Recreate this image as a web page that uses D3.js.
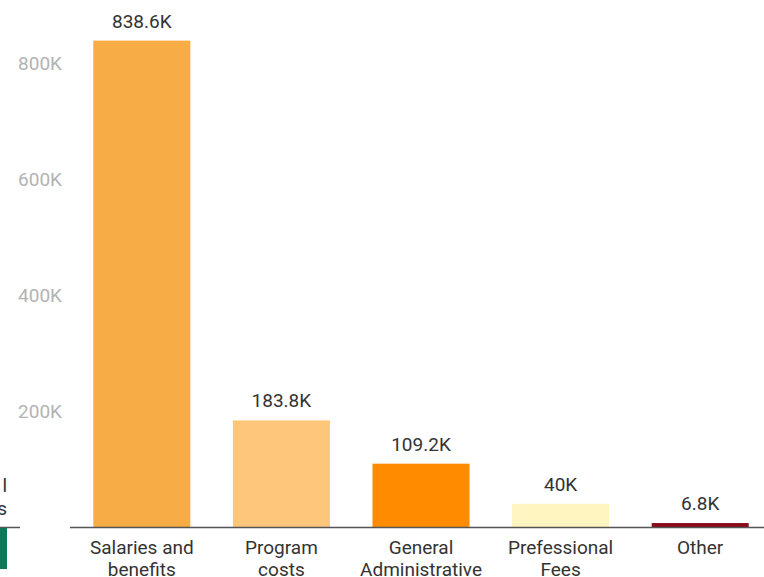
<!DOCTYPE html>
<html><head><meta charset="utf-8">
<script src="https://cdn.jsdelivr.net/npm/d3@7"></script>
<style>html,body{margin:0;padding:0;background:#fff;overflow:hidden}</style>
</head><body>
<svg id="c" width="764" height="577"></svg>
<script>
const categories = [["Salaries and","benefits"],["Program","costs"],["General","Administrative"],["Prefessional","Fees"],["Other"]];
const values = [838600, 183800, 109200, 40000, 6800];
const valueLabels = ["838.6K","183.8K","109.2K","40K","6.8K"];
const colors = ["#F7AC45","#FEC67A","#FF8C00","#FFF5C0","#8B0A1A"];
const yTicks = [200000, 400000, 600000, 800000];
const yTickLabels = ["200K","400K","600K","800K"];
// partial neighbouring chart at left edge
const neighborLabels = ["l","s"];
const neighborValues = [-70000];

const svg = d3.select("#c");
const font = "Roboto, 'Noto Sans', sans-serif";
const x = d3.scaleBand().domain(d3.range(values.length)).range([72, 770]).paddingInner(0.305).paddingOuter(0.1525);
const y = d3.scaleLinear().domain([0, 800000]).range([527, 63]);

// y tick labels
svg.append("g").selectAll("text").data(yTicks).join("text")
  .attr("x", 62).attr("y", d => y(d)).attr("dy", "0.35em")
  .attr("text-anchor", "end").attr("font-family", font).attr("font-size", 19)
  .attr("fill", "#b3b3b3").text((d,i) => yTickLabels[i]);

// bars
svg.append("g").selectAll("rect").data(values).join("rect")
  .attr("x", (d,i) => x(i)).attr("width", x.bandwidth())
  .attr("y", d => y(d)).attr("height", d => y(0) - y(d))
  .attr("fill", (d,i) => colors[i]);

// baseline
svg.append("line").attr("x1", 70).attr("x2", 764).attr("y1", y(0)+0.5).attr("y2", y(0)+0.5)
  .attr("stroke", "#555").attr("stroke-width", 1.5);

// value labels
svg.append("g").selectAll("text").data(values).join("text")
  .attr("x", (d,i) => x(i) + x.bandwidth()/2).attr("y", d => y(d) - 13)
  .attr("text-anchor", "middle").attr("font-family", font).attr("font-size", 19)
  .attr("fill", "#333").text((d,i) => valueLabels[i]);

// category labels
const cat = svg.append("g").selectAll("text").data(categories).join("text")
  .attr("x", (d,i) => x(i) + x.bandwidth()/2).attr("y", 554)
  .attr("text-anchor", "middle").attr("font-family", font).attr("font-size", 19)
  .attr("fill", "#333");
cat.selectAll("tspan").data(d => d).join("tspan")
  .attr("x", function(){ return this.parentNode.getAttribute("x"); })
  .attr("dy", (d,j) => j === 0 ? 0 : 22).text(d => d);

// neighbouring chart fragment
const yn = d3.scaleLinear().domain([0, -70000]).range([527, 568]);
svg.append("line").attr("x1", 0).attr("x2", 20).attr("y1", 527.5).attr("y2", 527.5)
  .attr("stroke", "#555").attr("stroke-width", 1.5);
svg.append("g").selectAll("rect").data(neighborValues).join("rect")
  .attr("x", 0).attr("width", 7).attr("y", yn(0)+1).attr("height", d => yn(d) - yn(0))
  .attr("fill", "#0A7A5A");
svg.append("g").selectAll("text").data(neighborLabels).join("text")
  .attr("x", 7).attr("y", (d,i) => 492 + i*23).attr("text-anchor", "end")
  .attr("font-family", font).attr("font-size", 19).attr("fill", "#333").text(d => d);
</script>
</body></html>
